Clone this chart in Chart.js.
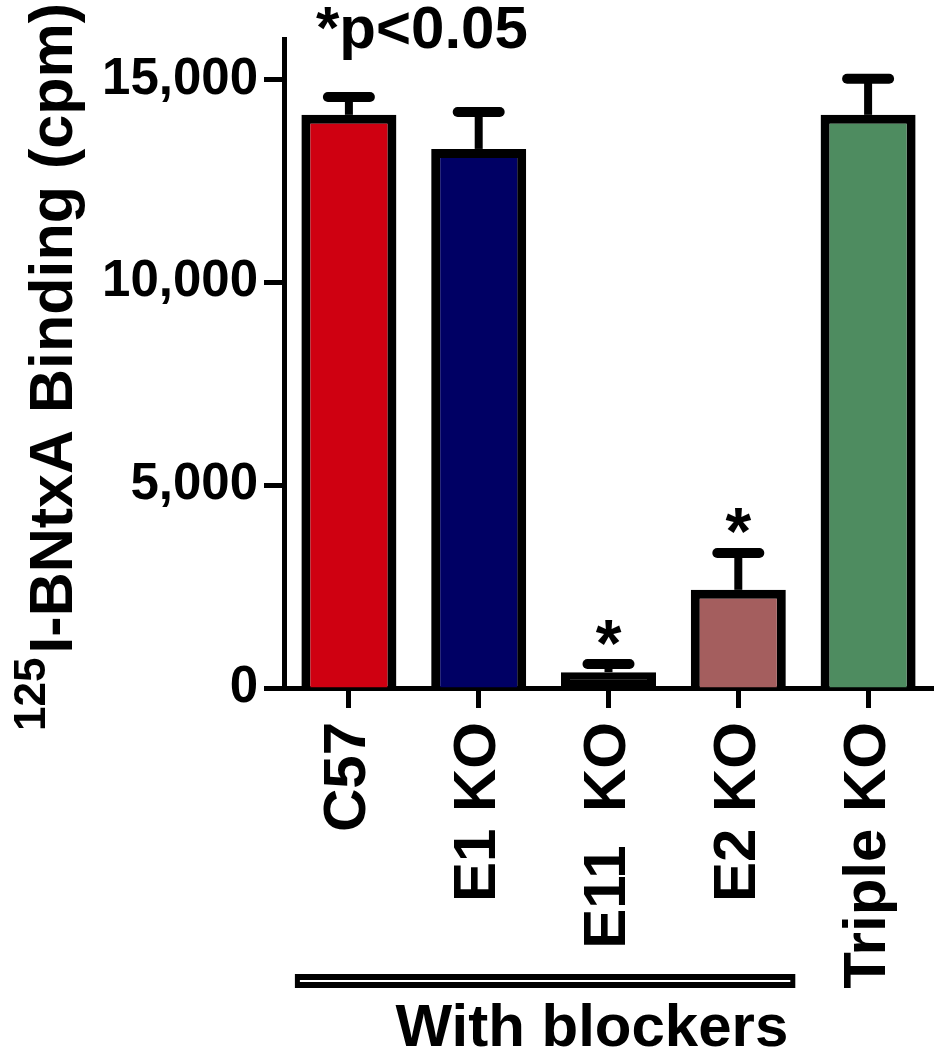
<!DOCTYPE html>
<html><head><meta charset="utf-8">
<script src="https://cdn.jsdelivr.net/npm/chart.js@4.4.1/dist/chart.umd.min.js"></script>
<style>html,body{margin:0;padding:0;background:#fff;} #wrap{width:944px;height:1050px;}</style>
</head><body><div id="wrap"><canvas id="c" width="944" height="1050"></canvas></div>
<script>
const categories = ['C57', 'E1 KO', 'E11  KO', 'E2 KO', 'Triple KO'];
const meanValues = [14130, 13290, 390, 2420, 14130];
const semValues = [440, 910, 200, 910, 890];
const barColors = ['#CF0011', '#000064', '#000000', '#A45E5E', '#4E8C60'];
const significant = [false, false, true, true, false];
const yTicks = [0, 5000, 10000, 15000];
const yMax = 16000;
const yTitleSup = '125';
const yTitleMain = 'I-BNtxA Binding (cpm)';
const pNote = '*p<0.05';
const groupLabel = 'With blockers';
const groupFirst = 0, groupLast = 3;

const FAM = '"Liberation Sans", Arial, sans-serif';
Chart.defaults.font.family = FAM;

const annot = {
  id: 'annot',
  afterDatasetsDraw(chart) {
    const ctx = chart.ctx, xs = chart.scales.x, ys = chart.scales.y;
    ctx.save();
    ctx.strokeStyle = '#000';
    ctx.fillStyle = '#000';
    meanValues.forEach((m, i) => {
      const cx = xs.getPixelForValue(i);
      const yTop = ys.getPixelForValue(m);
      const yErr = ys.getPixelForValue(m + semValues[i]);
      ctx.lineWidth = 8; ctx.lineCap = 'butt';
      ctx.beginPath(); ctx.moveTo(cx, yTop); ctx.lineTo(cx, yErr); ctx.stroke();
      ctx.lineWidth = 10; ctx.lineCap = 'round';
      ctx.beginPath(); ctx.moveTo(cx - 21, yErr); ctx.lineTo(cx + 21, yErr); ctx.stroke();
      if (significant[i]) {
        ctx.font = 'bold 66px ' + FAM;
        ctx.textAlign = 'center'; ctx.textBaseline = 'alphabetic';
        const mt = ctx.measureText('*');
        const target = yErr - 32;
        const base = target - (mt.actualBoundingBoxDescent - mt.actualBoundingBoxAscent) / 2;
        ctx.fillText('*', cx, base);
      }
    });
    ctx.restore();
  },
  afterDraw(chart) {
    const ctx = chart.ctx, xs = chart.scales.x;
    ctx.save();
    ctx.fillStyle = '#000';
    // y title with superscript
    ctx.font = 'bold 44px ' + FAM;
    const supW = ctx.measureText(yTitleSup).width;
    ctx.translate(0, 731);
    ctx.rotate(-Math.PI / 2);
    ctx.textAlign = 'left'; ctx.textBaseline = 'alphabetic';
    ctx.fillText(yTitleSup, 0, 45);
    ctx.font = 'bold 61px ' + FAM;
    ctx.fillText(yTitleMain, supW + 4, 72);
    ctx.restore();

    ctx.save();
    ctx.fillStyle = '#000';
    ctx.font = 'bold 60px ' + FAM;
    ctx.textAlign = 'left'; ctx.textBaseline = 'alphabetic';
    ctx.fillText(pNote, 316, 48);

    // group bracket (double line)
    const x0 = xs.getPixelForValue(groupFirst) - 54;
    const x1 = xs.getPixelForValue(groupLast) + 57;
    ctx.fillRect(x0, 974, x1 - x0, 14);
    ctx.fillStyle = '#fff';
    ctx.fillRect(x0 + 5, 980, x1 - x0 - 10, 2);
    ctx.fillStyle = '#000';
    ctx.font = 'bold 60px ' + FAM;
    ctx.textAlign = 'right';
    ctx.fillText(groupLabel, x1 - 7, 1046);
    ctx.restore();
  }
};

new Chart(document.getElementById('c'), {
  type: 'bar',
  data: {
    labels: categories,
    datasets: [{
      data: meanValues,
      backgroundColor: barColors,
      borderColor: '#000',
      borderWidth: 9,
      borderSkipped: 'start',
      barPercentage: 0.732,
      categoryPercentage: 1
    }]
  },
  options: {
    responsive: false,
    animation: false,
    devicePixelRatio: 1,
    layout: { padding: { left: 0, top: 39, right: 11, bottom: 0 } },
    plugins: { legend: { display: false }, tooltip: { enabled: false } },
    scales: {
      x: {
        grid: { display: true, drawOnChartArea: false, drawTicks: true, tickLength: 20, tickWidth: 5, tickColor: '#000', offset: false },
        border: { display: true, color: '#000', width: 5 },
        ticks: { minRotation: 90, maxRotation: 90, autoSkip: false, padding: 14, color: '#000', font: { size: 60, weight: 'bold' } },
        afterFit(s) { s.height = 362; s.paddingLeft = 0; s.paddingRight = 0; }
      },
      y: {
        min: 0, max: yMax,
        afterBuildTicks(s) { s.ticks = yTicks.map(v => ({ value: v })); },
        grid: { display: true, drawOnChartArea: false, drawTicks: true, tickLength: 20, tickWidth: 5, tickColor: '#000' },
        border: { display: true, color: '#000', width: 5 },
        ticks: { padding: 6, color: '#000', font: { size: 51, weight: 'bold' }, callback: v => Number(v).toLocaleString('en-US') },
        afterFit(s) { s.width = 284; s.paddingTop = 0; s.paddingBottom = 0; }
      }
    }
  },
  plugins: [annot]
});
</script>
</body></html>
